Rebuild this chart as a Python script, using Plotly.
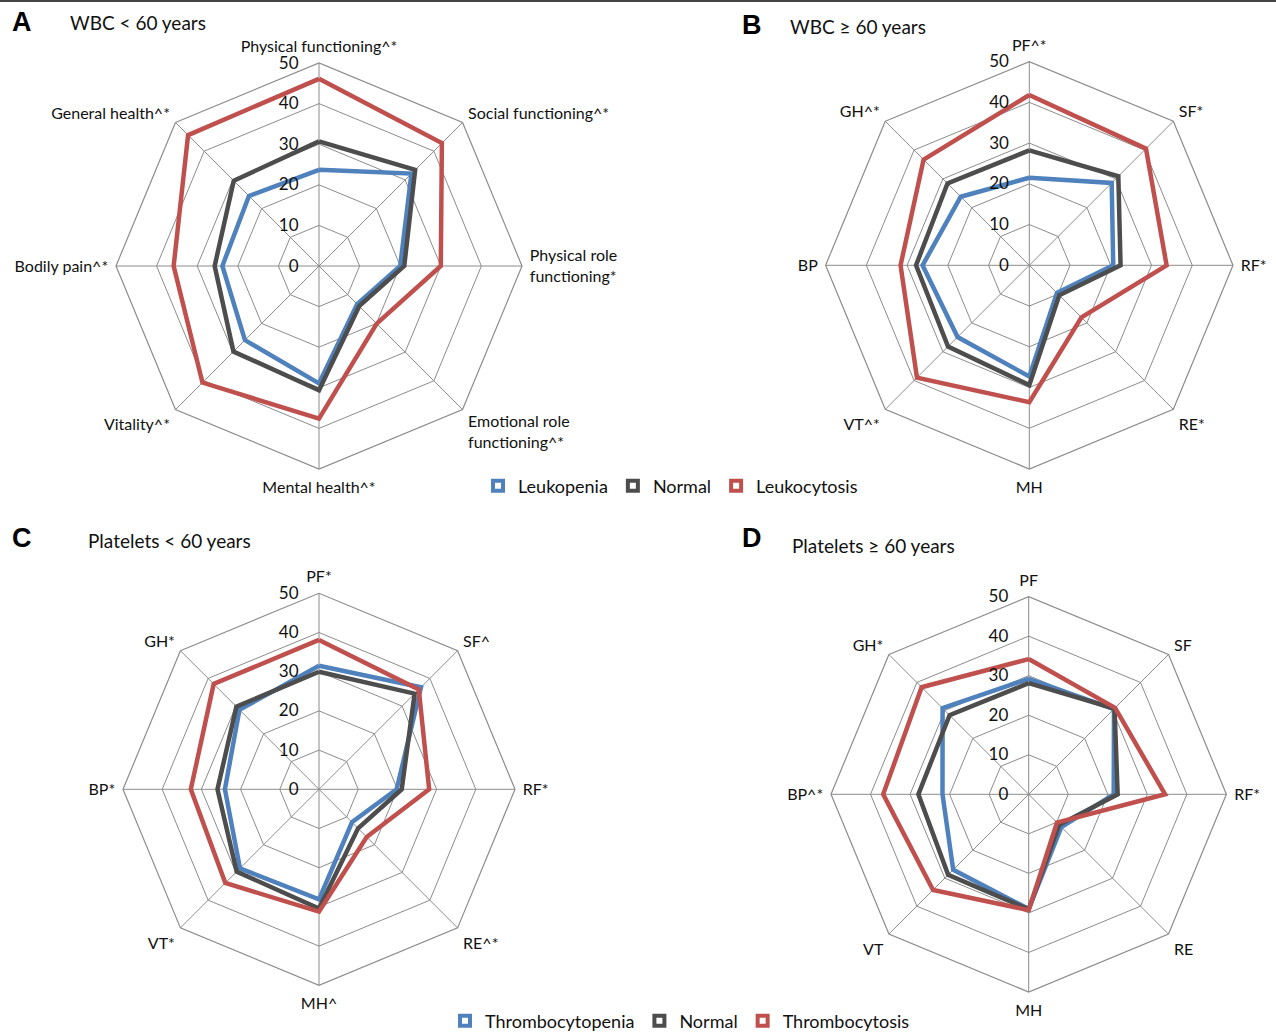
import plotly.graph_objects as go

# SF-36 domain labels for each panel (clockwise from the top)
cats_a = ["Physical functioning^*", "Social functioning^*", "Physical role<br>functioning*",
          "Emotional role<br>functioning^*", "Mental health^*", "Vitality^*",
          "Bodily pain^*", "General health^*"]
cats_b = ["PF^*", "SF*", "RF*", "RE*", "MH", "VT^*", "BP", "GH^*"]
cats_c = ["PF*", "SF^", "RF*", "RE^*", "MH^", "VT*", "BP*", "GH*"]
cats_d = ["PF", "SF", "RF*", "RE", "MH", "VT", "BP^*", "GH*"]

# A: WBC < 60 years
a_leukopenia = [23.7, 32.2, 20.0, 13.3, 28.9, 25.8, 23.8, 24.4]
a_normal = [30.7, 33.5, 21.0, 14.0, 30.6, 29.8, 25.7, 29.7]
a_leukocytosis = [46.1, 42.8, 30.0, 20.1, 37.6, 40.6, 35.8, 45.6]

# B: WBC >= 60 years
b_leukopenia = [21.5, 28.6, 20.6, 9.6, 27.3, 24.9, 26.2, 23.8]
b_normal = [28.2, 30.9, 22.4, 10.4, 29.4, 28.2, 27.8, 28.4]
b_leukocytosis = [41.8, 40.5, 33.7, 18.1, 33.6, 39.0, 31.6, 36.7]

# C: Platelets < 60 years
c_thrombocytopenia = [31.5, 36.8, 19.8, 11.9, 28.1, 28.5, 24.0, 28.7]
c_normal = [30.0, 34.5, 21.1, 14.1, 30.4, 29.7, 25.9, 29.8]
c_thrombocytosis = [38.1, 36.0, 28.1, 17.2, 31.2, 33.8, 32.7, 38.0]

# D: Platelets >= 60 years
d_thrombocytopenia = [29.2, 30.5, 21.5, 11.7, 29.0, 27.0, 21.8, 30.8]
d_normal = [28.1, 30.7, 22.5, 10.9, 29.1, 28.8, 27.9, 28.3]
d_thrombocytosis = [34.2, 30.9, 34.5, 10.1, 29.3, 34.2, 36.8, 38.3]

radial_ticks = [0, 10, 20, 30, 40, 50]

BLUE = "#4F81BD"
GREY = "#4D4D4D"
RED = "#C0504D"
GRID = "#8C8C8C"
FONT = "Lato"

W, H = 1276, 1034

fig = go.Figure()


def closed(vals):
    return list(vals) + [vals[0]]


panels = [
    ("polar", cats_a, [("Leukopenia", a_leukopenia, BLUE), ("Normal", a_normal, GREY),
                       ("Leukocytosis", a_leukocytosis, RED)], "legend"),
    ("polar2", cats_b, [("Leukopenia", b_leukopenia, BLUE), ("Normal", b_normal, GREY),
                        ("Leukocytosis", b_leukocytosis, RED)], None),
    ("polar3", cats_c, [("Thrombocytopenia", c_thrombocytopenia, BLUE), ("Normal", c_normal, GREY),
                        ("Thrombocytosis", c_thrombocytosis, RED)], "legend2"),
    ("polar4", cats_d, [("Thrombocytopenia", d_thrombocytopenia, BLUE), ("Normal", d_normal, GREY),
                        ("Thrombocytosis", d_thrombocytosis, RED)], None),
]

for sub, cats, series, leg in panels:
    for name, vals, col in series:
        fig.add_trace(go.Scatterpolar(
            r=closed(vals), theta=closed(cats), mode="lines", name=name,
            line=dict(color=col, width=4.5), subplot=sub, showlegend=False,
            hoverinfo="skip"))
    if leg:
        for name, vals, col in series:
            fig.add_trace(go.Scatterpolar(
                r=[None], theta=[cats[0]], mode="markers", name=name,
                marker=dict(symbol="square-open", color=col, size=10,
                            line=dict(color=col, width=4)),
                subplot=sub, legend=leg, showlegend=True))


def px_domain(cx, cy, R):
    return dict(x=[(cx - R) / W, (cx + R) / W],
                y=[1 - (cy + R) / H, 1 - (cy - R) / H])


def polar_layout(cats, dom):
    return dict(
        domain=dom,
        gridshape="linear",
        bgcolor="white",
        angularaxis=dict(
            type="category", categoryarray=cats, rotation=90, direction="clockwise",
            showline=True, linecolor=GRID, linewidth=1.2,
            gridcolor=GRID, gridwidth=1.2, ticks="outside", ticklen=4,
            tickcolor="rgba(0,0,0,0)",
            tickfont=dict(family=FONT, size=16, color="#111")),
        radialaxis=dict(
            range=[0, 50], tickvals=radial_ticks, angle=90, tickangle=90,
            side="counterclockwise",
            showline=False, gridcolor=GRID, gridwidth=1.2, ticks="outside", ticklen=14,
            tickcolor="rgba(0,0,0,0)",
            tickfont=dict(family=FONT, size=17, color="#111")),
    )


fig.update_layout(
    width=W, height=H,
    margin=dict(l=0, r=0, t=0, b=0, autoexpand=False),
    paper_bgcolor="white", plot_bgcolor="white",
    polar=polar_layout(cats_a, px_domain(319, 266, 203)),
    polar2=polar_layout(cats_b, px_domain(1029.3, 265.3, 203.7)),
    polar3=polar_layout(cats_c, px_domain(319, 789.3, 196)),
    polar4=polar_layout(cats_d, px_domain(1028.7, 794.3, 197.7)),
    legend=dict(orientation="h", x=478 / W, y=1 - 486 / H, xanchor="left", yanchor="middle",
                font=dict(family=FONT, size=18, color="#111"), bgcolor="rgba(0,0,0,0)"),
    legend2=dict(orientation="h", x=445 / W, y=1 - 1021 / H, xanchor="left", yanchor="middle",
                 font=dict(family=FONT, size=18, color="#111"), bgcolor="rgba(0,0,0,0)"),
    showlegend=True,
)

# Panel letters and titles
labels = [
    ("A", 22, 22, "WBC &lt; 60 years", 68, 22),
    ("B", 752, 25, "WBC ≥ 60 years", 788, 26),
    ("C", 22, 538, "Platelets &lt; 60 years", 86, 540),
    ("D", 752, 538, "Platelets ≥ 60 years", 790, 545),
]
for letter, lx, ly, title, tx, ty in labels:
    fig.add_annotation(text=f"<b>{letter}</b>", x=lx / W, y=1 - ly / H, xref="paper", yref="paper",
                       xanchor="center", yanchor="middle", showarrow=False,
                       font=dict(family="Liberation Sans", size=27, color="#000"))
    fig.add_annotation(text=title, x=tx / W, y=1 - ty / H, xref="paper", yref="paper",
                       xanchor="left", yanchor="middle", showarrow=False,
                       font=dict(family=FONT, size=19, color="#111"))

# thin rule across the top edge
fig.add_shape(type="line", xref="paper", yref="paper", x0=0, x1=1, y0=1 - 1 / H, y1=1 - 1 / H,
              line=dict(color="#444", width=2))

fig.write_html("out.html")
